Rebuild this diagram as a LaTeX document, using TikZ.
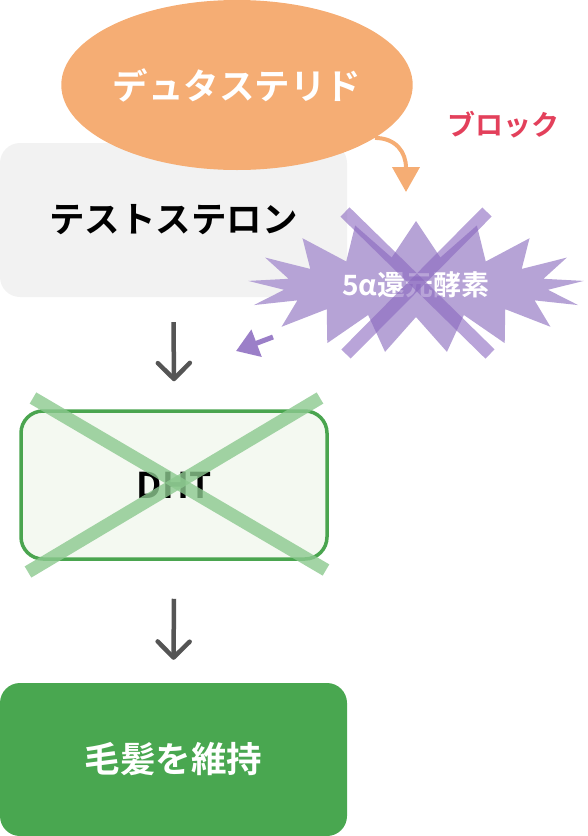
\documentclass[tikz,border=0pt]{standalone}
\usepackage{fontspec}
\setmainfont{Noto Sans CJK JP}[BoldFont={Noto Sans CJK JP Bold}]
\usetikzlibrary{shapes.geometric,shapes.symbols,arrows.meta}

\definecolor{dutaorange}{HTML}{F5AD74}
\definecolor{boxgray}{HTML}{F2F2F2}
\definecolor{blockred}{HTML}{E3405B}
\definecolor{starpurple}{HTML}{B6A3D6}
\definecolor{crosspurple}{HTML}{8A68BF}
\definecolor{arrowpurple}{HTML}{9B7FC8}
\definecolor{arrowgray}{HTML}{555555}
\definecolor{dhtgreen}{HTML}{4AA54F}
\definecolor{dhtfill}{HTML}{F4F9F1}
\definecolor{crossgreen}{HTML}{8CC98F}
\definecolor{hairgreen}{HTML}{49A750}

\begin{document}
\begin{tikzpicture}[x=1pt,y=-1pt]
        \tikzset{
          bigtext/.style={font=\bfseries\fontsize{35.5}{35.5}\selectfont},
          flowbox/.style={rounded corners=20pt, minimum width=347pt,
            minimum height=154pt, inner sep=0pt, bigtext},
          downarrow/.style={draw=arrowgray, line width=4.5pt,
            -{Straight Barb[length=16pt,width=32pt,round]}},
          crossline/.style={line width=13pt}
        }
        \useasboundingbox (0,0) rectangle (587,836);
        % testosterone and dutasteride
        \node[flowbox, fill=boxgray, text=black] (testo) at (173.5,220) {テストステロン};
        \node[ellipse, fill=dutaorange, minimum width=350pt, minimum height=170pt,
          inner sep=0pt, text=white, bigtext] (duta) at (237,85) {デュタステリド};
        \node[text=blockred, font=\bfseries\fontsize{28}{28}\selectfont] (block) at (503,125) {ブロック};
        \coordinate (blocktip) at (406,192);
        \draw[dutaorange, line width=4pt, -{Triangle[length=25pt,width=27pt]}]
          (duta.-21) .. controls (396,138) and (406,152) .. (blocktip);
        % enzyme
        \node[starburst, starburst points=17, starburst point height=36pt,
          random starburst=0, fill=starpurple, minimum width=337pt,
          minimum height=132pt, inner sep=0pt] (enzyme) at (416,287) {};
        \node[text=white, font=\bfseries\fontsize{28}{28}\selectfont] (enzlabel) at (416,285) {5α還元酵素};
        \coordinate (enzA) at (345,212);
        \coordinate (enzB) at (490,354);
        \coordinate (enzC) at (487,212);
        \coordinate (enzD) at (346,354);
        \draw[crossline, crosspurple, opacity=0.6] (enzA) -- (enzB);
        \draw[crossline, crosspurple, opacity=0.6] (enzC) -- (enzD);
        \coordinate (enzout) at (273,337);
        \coordinate (enztip) at (236,351);
        \draw[arrowpurple, line width=5pt, -{Triangle[length=22pt,width=28pt]}] (enzout) -- (enztip);
        % DHT
        \node[rounded corners=22pt, draw=dhtgreen, line width=3.5pt, fill=dhtfill,
          minimum width=306pt, minimum height=148pt, inner sep=0pt, text=black, bigtext]
          (dht) at (174,485) {DHT};
        \coordinate (dhtA) at (33,398);
        \coordinate (dhtB) at (326,570);
        \coordinate (dhtC) at (320,398);
        \coordinate (dhtD) at (28,572);
        \draw[crossline, crossgreen, opacity=0.8] (dhtA) -- (dhtB);
        \draw[crossline, crossgreen, opacity=0.8] (dhtC) -- (dhtD);
        % hair
        \node[flowbox, fill=hairgreen, text=white, minimum height=153pt] (hair) at (173.5,759.5) {毛髪を維持};
        \draw[downarrow] ([yshift=-25pt]testo.south) -- ([yshift=28pt]dht.north);
        \draw[downarrow] ([yshift=-38pt]dht.south) -- ([yshift=23pt]hair.north);
    \end{tikzpicture}
\end{document}
